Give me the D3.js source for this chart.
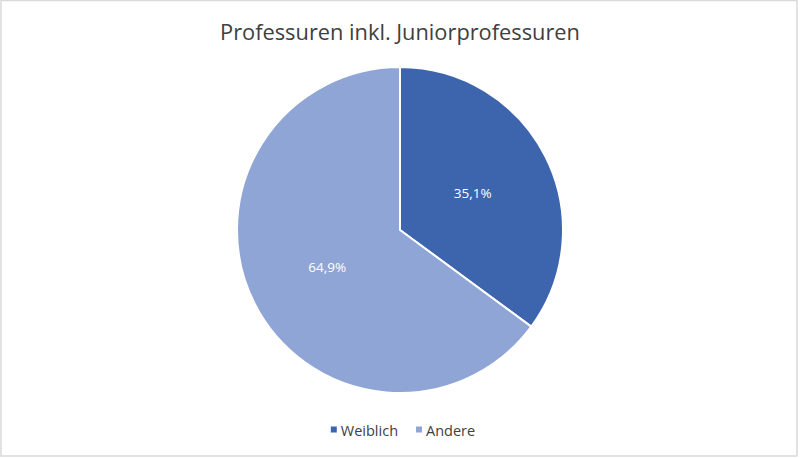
<!DOCTYPE html>
<html lang="de">
<head>
  <meta charset="UTF-8">
  <title>Professuren inkl. Juniorprofessuren</title>
  <script src="https://d3js.org/d3.v7.min.js"></script>
  <style>
    body { margin: 0; padding: 0; background: #fff; overflow: hidden; }
    svg { display: block; font-family: "Open Sans", "Noto Sans", sans-serif; }
  </style>
</head>
<body>
  <svg id="chart" width="800" height="458"></svg>

  <script>
    // —— data ——
    const categories = ["Weiblich", "Andere"];
    const shares = [35.1, 64.9];
    const colors = ["#3d65ae", "#8fa5d5"];
    const title = "Professuren inkl. Juniorprofessuren";

    const width = 800, height = 458;
    const cx = 400, cy = 230, r = 163;

    const svg = d3.select("#chart");

    // frame
    svg.append("rect")
      .attr("x", 1).attr("y", 0.5)
      .attr("width", 796).attr("height", 455.5)
      .attr("fill", "#fff").attr("stroke", "#d9d9d9").attr("stroke-width", 1.5);

    // title, squeezed to the width it has in the picture
    const t = svg.append("text")
      .attr("x", cx).attr("y", 40)
      .attr("text-anchor", "middle")
      .attr("font-size", 23)
      .attr("fill", "#404040")
      .text(title);
    const tw = t.node().getComputedTextLength();
    if (tw > 360) t.attr("font-size", 23 * 360 / tw);

    const data = categories.map((c, i) => ({ name: c, value: shares[i], color: colors[i] }));

    const pie = d3.pie().sort(null).value(d => d.value);
    const arc = d3.arc().innerRadius(0).outerRadius(r);
    const labelArc = d3.arc().innerRadius(r * 0.5).outerRadius(r * 0.5);

    const g = svg.append("g").attr("transform", `translate(${cx},${cy})`);
    const arcs = pie(data);

    g.selectAll("path").data(arcs).join("path")
      .attr("d", arc)
      .attr("fill", d => d.data.color)
      .attr("stroke", "#fff")
      .attr("stroke-width", 2)
      .attr("stroke-linejoin", "round");

    g.selectAll("text.lbl").data(arcs).join("text")
      .attr("class", "lbl")
      .attr("transform", d => `translate(${labelArc.centroid(d)})`)
      .attr("text-anchor", "middle")
      .attr("dy", "0.35em")
      .attr("font-size", 13.5)
      .attr("fill", "#fff")
      .text(d => d3.format(".1f")(d.data.value).replace(".", ",") + "%");

    // legend
    const leg = svg.append("g");
    let x = 0;
    data.forEach(d => {
      const it = leg.append("g").attr("transform", `translate(${x},0)`);
      it.append("rect").attr("x", 0).attr("y", -4.5).attr("width", 6).attr("height", 6).attr("fill", d.color);
      const tx = it.append("text").attr("x", 10).attr("y", 0).attr("dy", "0.35em")
        .attr("font-size", 14.5).attr("fill", "#404040").text(d.name);
      x += 10 + tx.node().getComputedTextLength() + 18;
    });
    const lw = x - 18;
    leg.attr("transform", `translate(${cx - lw / 2 + 3},431)`);
  </script>
</body>
</html>
